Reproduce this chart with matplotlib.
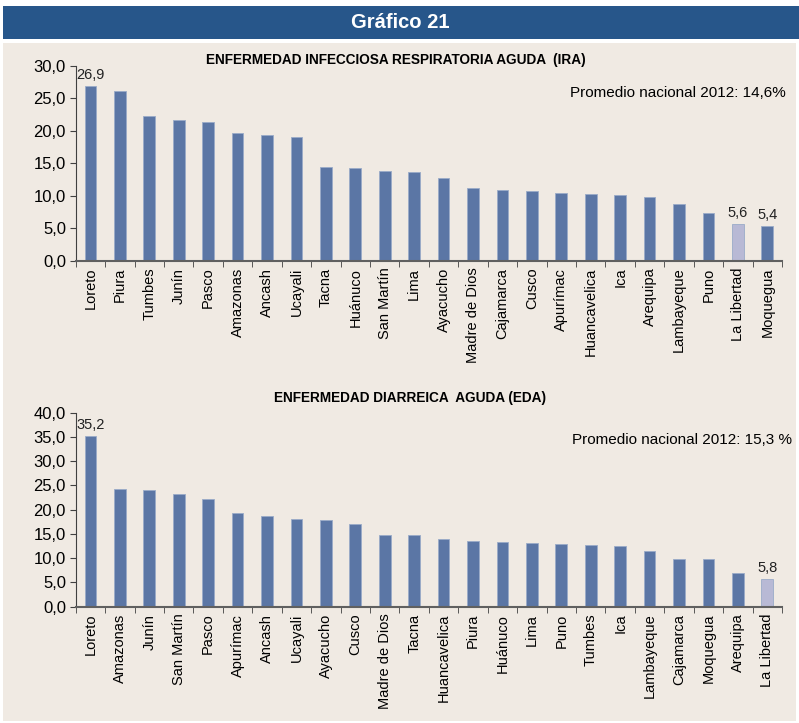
import numpy as np
import matplotlib
matplotlib.use('Agg')
import matplotlib.pyplot as plt
from matplotlib.patches import Rectangle

plt.rcParams['font.family'] = ['Liberation Sans', 'DejaVu Sans']

# Datos IRA
ira_regiones = ['Loreto', 'Piura', 'Tumbes', 'Junín', 'Pasco', 'Amazonas', 'Ancash',
                'Ucayali', 'Tacna', 'Huánuco', 'San Martín', 'Lima', 'Ayacucho',
                'Madre de Dios', 'Cajamarca', 'Cusco', 'Apurímac', 'Huancavelica',
                'Ica', 'Arequipa', 'Lambayeque', 'Puno', 'La Libertad', 'Moquegua']
ira_valores = [26.9, 26.1, 22.3, 21.7, 21.4, 19.6, 19.4, 19.0, 14.4, 14.3, 13.8, 13.7,
               12.7, 11.2, 10.9, 10.7, 10.5, 10.3, 10.2, 9.8, 8.8, 7.3, 5.6, 5.4]
ira_etiquetas = {'Loreto': '26,9', 'La Libertad': '5,6', 'Moquegua': '5,4'}

# Datos EDA
eda_regiones = ['Loreto', 'Amazonas', 'Junín', 'San Martín', 'Pasco', 'Apurímac', 'Ancash',
                'Ucayali', 'Ayacucho', 'Cusco', 'Madre de Dios', 'Tacna', 'Huancavelica',
                'Piura', 'Huánuco', 'Lima', 'Puno', 'Tumbes', 'Ica', 'Lambayeque',
                'Cajamarca', 'Moquegua', 'Arequipa', 'La Libertad']
eda_valores = [35.2, 24.3, 24.0, 23.2, 22.2, 19.4, 18.6, 18.1, 17.8, 17.1, 14.8, 14.8,
               14.0, 13.5, 13.3, 13.2, 13.0, 12.7, 12.5, 11.4, 9.9, 9.9, 6.9, 5.8]
eda_etiquetas = {'Loreto': '35,2', 'La Libertad': '5,8'}

AZUL = '#5B76A5'
LILA = '#B8B9D5'
FONDO = '#F0EAE3'
W, H = 799, 723

fig = plt.figure(figsize=(W / 100, H / 100), dpi=100)
fig.patch.set_facecolor('white')

# Panel de fondo y cabecera
fig.add_artist(Rectangle((3 / W, 1 - 721 / H), 793 / W, (721 - 43) / H,
                         transform=fig.transFigure, facecolor=FONDO, edgecolor='none', zorder=0))
fig.add_artist(Rectangle((3 / W, 1 - 39 / H), 796 / W, 33 / H,
                         transform=fig.transFigure, facecolor='#27568A', edgecolor='none', zorder=0))
fig.text(400 / W, 1 - 22 / H, 'Gráfico 21', color='white', fontsize=14.5, fontweight='bold',
         ha='center', va='center')


def grafico(rect, regiones, valores, etiquetas, ymax, titulo, tx, ty, promedio, px, py):
    ax = fig.add_axes(rect)
    ax.set_facecolor('none')
    n = len(regiones)
    x = np.arange(n)
    colores = [LILA if r == 'La Libertad' else AZUL for r in regiones]
    ax.bar(x, valores, width=0.4, color=colores, edgecolor='#9AABC8', linewidth=0.6, zorder=2)
    for i, r in enumerate(regiones):
        if r in etiquetas:
            ax.text(i, valores[i] + ymax * 0.02, etiquetas[r], ha='center', va='bottom',
                    fontsize=10.5, color='#222222')
    ax.set_xlim(-0.5, n - 0.5)
    ax.set_ylim(0, ymax)
    ax.set_yticks(np.arange(0, ymax + 0.1, 5))
    ax.set_yticklabels([f'{v:.1f}'.replace('.', ',') for v in np.arange(0, ymax + 0.1, 5)],
                       fontsize=12)
    ax.set_xticks(x)
    ax.set_xticklabels(regiones, rotation=90, fontsize=10.5)
    ax.set_xticks(np.arange(n + 1) - 0.5, minor=True)
    ax.tick_params(axis='x', which='major', length=0, pad=5)
    ax.tick_params(axis='x', which='minor', length=4, direction='out', color='#404040')
    ax.tick_params(axis='y', length=4, direction='out', color='#404040', pad=3)
    for s in ['top', 'right']:
        ax.spines[s].set_visible(False)
    ax.spines['left'].set_color('#404040')
    ax.spines['bottom'].set_color('#606060')
    ax.spines['bottom'].set_linewidth(1.5)
    fig.text(tx / W, 1 - ty / H, titulo, fontsize=9.8, fontweight='bold', ha='center', va='center')
    fig.text(px / W, 1 - py / H, promedio, fontsize=11, ha='right', va='center')
    return ax


grafico([75.7 / W, 1 - 260.7 / H, (782 - 75.7) / W, 194.7 / H],
        ira_regiones, ira_valores, ira_etiquetas, 30,
        'ENFERMEDAD INFECCIOSA RESPIRATORIA AGUDA  (IRA)', 396, 60,
        'Promedio nacional 2012: 14,6%', 786, 93)

grafico([75.7 / W, 1 - 606.7 / H, (782 - 75.7) / W, 194 / H],
        eda_regiones, eda_valores, eda_etiquetas, 40,
        'ENFERMEDAD DIARREICA  AGUDA (EDA)', 410, 398,
        'Promedio nacional 2012: 15,3 %', 792, 440)

fig.savefig('out.png', dpi=100, facecolor=fig.get_facecolor())
